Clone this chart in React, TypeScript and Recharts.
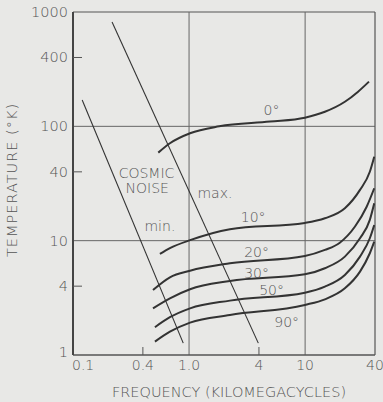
import React from 'react';
import { ComposedChart, Line, XAxis, YAxis, ReferenceLine, ReferenceDot } from 'recharts';

// Axis ticks
const xTicks = [0.1, 0.4, 1, 4, 10, 40];
const xTickLabels = ['0.1', '0.4', '1.0', '4', '10', '40'];
const yTicks = [1, 4, 10, 40, 100, 400, 1000];
const yTickLabels = ['1', '4', '10', '40', '100', '400', '1000'];

// Sky temperature curves by elevation angle (frequency in kMc, temperature in K)
const freq0 = [0.543, 0.684, 1.02, 1.82, 4.98, 9.95, 14.8, 22.0, 28.6, 35.5];
const temp0 = [58.9, 71.1, 87, 100, 110, 119, 134, 164, 201, 246];
const freq10 = [0.561, 0.684, 1.02, 2.25, 9.95, 14.8, 22.0, 29.7, 36.1, 39.4];
const temp10 = [7.65, 8.6, 10.1, 12.6, 14.3, 15.7, 19.2, 27.8, 40.1, 54.3];
const freq20 = [0.489, 0.684, 1.02, 2.25, 9.95, 14.8, 19.9, 26.9, 33.9, 39.4];
const temp20 = [3.7, 4.78, 5.46, 6.34, 7.35, 8.3, 9.6, 13.3, 19.8, 28.7];
const freq30 = [0.489, 0.684, 1.02, 2.25, 9.95, 14.8, 22.0, 29.7, 36.1, 39.4];
const temp30 = [2.56, 3.13, 3.76, 4.44, 5.08, 5.74, 7.25, 10.5, 15.2, 21.2];
const freq50 = [0.508, 0.684, 1.02, 2.25, 9.95, 14.8, 22.0, 29.7, 36.1, 39.4];
const temp50 = [1.75, 2.14, 2.56, 2.99, 3.51, 3.96, 5.01, 7.25, 10.5, 13.7];
const freq90 = [0.508, 0.684, 1.02, 2.25, 9.95, 14.8, 22.0, 29.7, 36.1, 39.4];
const temp90 = [1.31, 1.6, 1.92, 2.24, 2.74, 3.07, 3.83, 5.36, 7.76, 9.8];

// Cosmic noise limits
const freqCosmicMin = [0.12, 0.891];
const tempCosmicMin = [170, 1.27];
const freqCosmicMax = [0.217, 3.95];
const tempCosmicMax = [819, 1.27];

// Annotation texts and their anchors (data coordinates)
const noteTexts = ['0°', '10°', '20°', '30°', '50°', '90°', 'max.', 'min.', 'COSMIC', 'NOISE'];
const noteFreqs = [5.14, 3.57, 3.82, 3.82, 5.14, 6.93, 1.67, 0.561, 0.43, 0.436];
const noteTemps = [139, 16.2, 8.0, 5.19, 3.7, 1.96, 26.3, 13.4, 38.9, 28.7];

const zip = (f: number[], t: number[]) => f.map((v, i) => ({ f: v, t: t[i] }));

const curves = [
  zip(freq0, temp0),
  zip(freq10, temp10),
  zip(freq20, temp20),
  zip(freq30, temp30),
  zip(freq50, temp50),
  zip(freq90, temp90),
];
const cosmic = [zip(freqCosmicMin, tempCosmicMin), zip(freqCosmicMax, tempCosmicMax)];

const FONT = '"DejaVu Sans", sans-serif';
const WEIGHT = 300;
const TEXT = '#555';
const INK = '#333';

const XTick = (props: any) => {
  const { x, y, payload } = props;
  const v = payload.value;
  const i = xTicks.indexOf(v);
  const inner = v === 0.4 || v === 4;
  return (
    <g>
      {inner && <line x1={x} x2={x} y1={y} y2={y - 8} stroke="#555" strokeWidth={1} />}
      <text
        x={i === 0 ? x - 1 : x}
        y={y + 15}
        textAnchor={i === 0 ? 'start' : 'middle'}
        fill={TEXT}
        fontFamily={FONT}
        fontWeight={WEIGHT}
        fontSize={14}
      >
        {xTickLabels[i]}
      </text>
    </g>
  );
};

const YTick = (props: any) => {
  const { x, y, payload } = props;
  const v = payload.value;
  const i = yTicks.indexOf(v);
  const inner = v === 4 || v === 40 || v === 400;
  return (
    <g>
      {inner && <line x1={x} x2={x + 9} y1={y} y2={y} stroke="#555" strokeWidth={1} />}
      <text
        x={x - 5}
        y={v === 1 ? y - 3 : y}
        textAnchor="end"
        dominantBaseline="central"
        fill={TEXT}
        fontFamily={FONT}
        fontWeight={WEIGHT}
        fontSize={14.5}
      >
        {yTickLabels[i]}
      </text>
    </g>
  );
};

const XTitle = (props: any) => {
  const vb = props.viewBox;
  return (
    <text
      x={vb.x + vb.width / 2 + 5}
      y={vb.y + 42}
      textAnchor="middle"
      fill={TEXT}
      fontFamily={FONT}
      fontWeight={WEIGHT}
      fontSize={14.5}
    >
      FREQUENCY (KILOMEGACYCLES)
    </text>
  );
};

const YTitle = () => {
  const cx = 12;
  const cy = 180;
  return (
    <text
      x={cx}
      y={cy}
      transform={`rotate(-90, ${cx}, ${cy})`}
      textAnchor="middle"
      dominantBaseline="central"
      fill={TEXT}
      fontFamily={FONT}
      fontWeight={WEIGHT}
      fontSize={14.5}
      letterSpacing={1}
    >
      TEMPERATURE (°K)
    </text>
  );
};

export default function App() {
  return (
    <div
      style={{
        position: 'absolute',
        left: 0,
        top: 0,
        width: 383,
        height: 402,
        background: '#e8e8e6',
      }}
    >
      <ComposedChart width={383} height={402} margin={{ top: 12, right: 8, bottom: 0, left: 0 }}>
        <XAxis
          dataKey="f"
          type="number"
          scale="log"
          domain={[0.1, 40]}
          allowDataOverflow
          ticks={xTicks}
          interval={0}
          height={47}
          tickSize={0}
          tickMargin={0}
          tickLine={false}
          axisLine={{ stroke: '#555', strokeWidth: 1.5 }}
          tick={<XTick />}
          label={{ content: <XTitle /> }}
        />
        <YAxis
          dataKey="t"
          type="number"
          scale="log"
          domain={[1, 1000]}
          allowDataOverflow
          ticks={yTicks}
          interval={0}
          width={73}
          tickSize={0}
          tickMargin={0}
          tickLine={false}
          axisLine={{ stroke: '#444', strokeWidth: 2 }}
          tick={<YTick />}
          label={{ content: <YTitle /> }}
        />
        <ReferenceLine y={10} stroke="#666" strokeWidth={1} />
        <ReferenceLine y={100} stroke="#666" strokeWidth={1} />
        <ReferenceLine y={1000} stroke="#555" strokeWidth={1.2} />
        <ReferenceLine x={1} stroke="#666" strokeWidth={1} />
        <ReferenceLine x={10} stroke="#666" strokeWidth={1} />
        <ReferenceLine x={40} stroke="#555" strokeWidth={1.2} />
        {cosmic.map((d, i) => (
          <Line
            key={'c' + i}
            data={d}
            dataKey="t"
            type="linear"
            stroke={INK}
            strokeWidth={1.1}
            dot={false}
            activeDot={false}
            isAnimationActive={false}
          />
        ))}
        {curves.map((d, i) => (
          <Line
            key={'s' + i}
            data={d}
            dataKey="t"
            type="monotone"
            stroke={INK}
            strokeWidth={2}
            dot={false}
            activeDot={false}
            isAnimationActive={false}
          />
        ))}
        {noteTexts.map((txt, i) => (
          <ReferenceDot
            key={'n' + i}
            x={noteFreqs[i]}
            y={noteTemps[i]}
            r={0.01}
            fill="none"
            stroke="none"
            label={{
              value: txt,
              position: 'center',
              fill: TEXT,
              fontFamily: FONT,
              fontWeight: WEIGHT,
              fontSize: 14,
            }}
          />
        ))}
      </ComposedChart>
    </div>
  );
}
